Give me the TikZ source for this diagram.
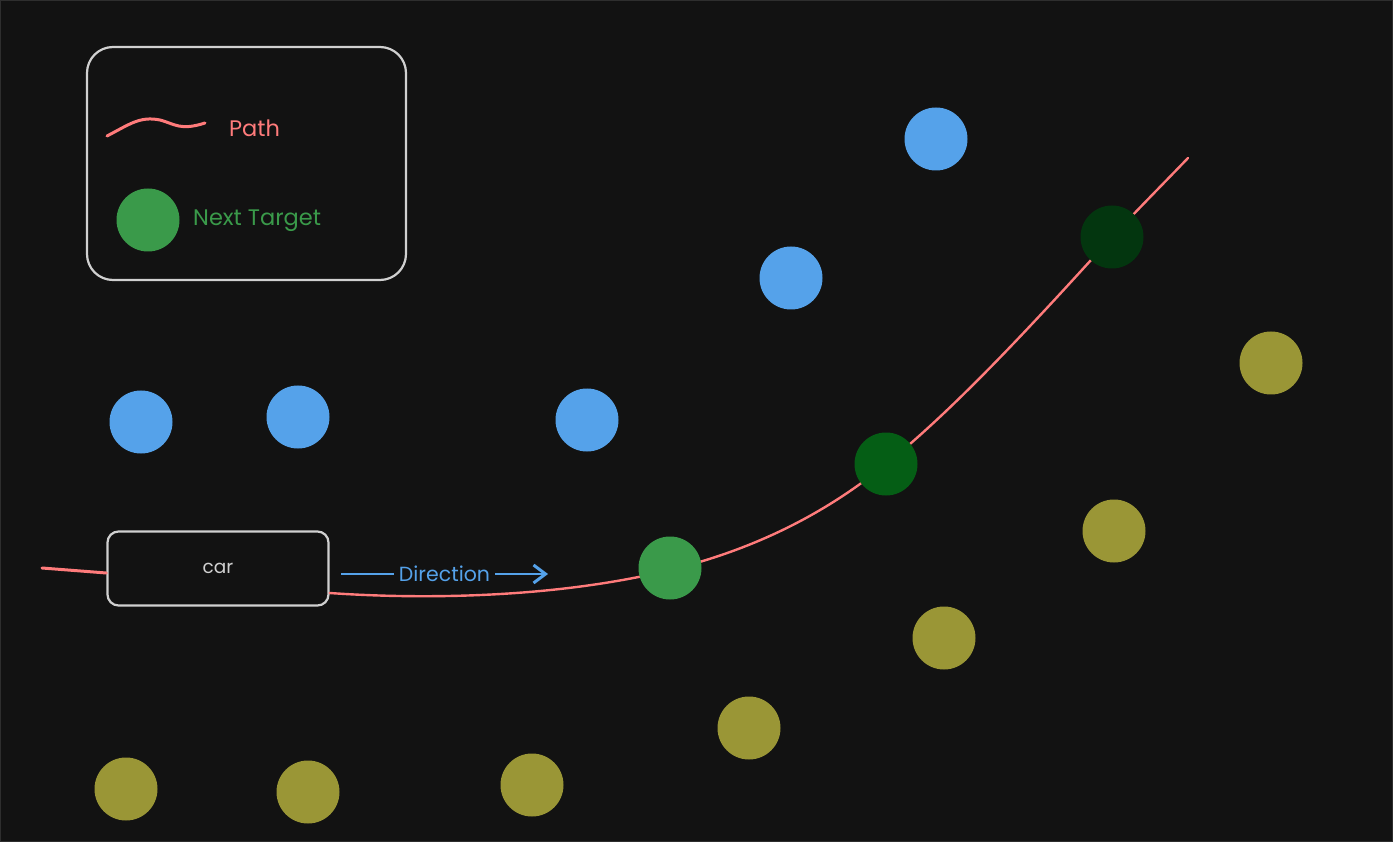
\documentclass[tikz,border=0pt]{standalone}
\usepackage{fontspec}
\setmainfont{Poppins}
\usetikzlibrary{arrows.meta}
\definecolor{bg}{HTML}{121212}
\definecolor{edge}{HTML}{2E2E2E}
\definecolor{boxline}{HTML}{D0D0D0}
\definecolor{pathred}{HTML}{FF7B7B}
\definecolor{dotblue}{HTML}{55A2EA}
\definecolor{dotolive}{HTML}{9A9636}
\definecolor{nextgreen}{HTML}{3A9A4A}
\definecolor{midgreen}{HTML}{055E15}
\definecolor{darkgreen}{HTML}{03360F}
\definecolor{dirblue}{HTML}{55A2EA}
\tikzset{
  dot/.style={circle, minimum size=63pt, inner sep=0pt},
  bluedot/.style={dot, fill=dotblue},
  olivedot/.style={dot, fill=dotolive},
  roundbox/.style={draw=boxline, line width=2.2pt, rounded corners=#1, inner sep=0pt},
  redline/.style={draw=pathred, line width=2.4pt, line cap=round},
  lbl/.style={font=\fontsize{22.5}{26}\selectfont, inner sep=1pt}
}
\begin{document}
\begin{tikzpicture}[x=1pt,y=-1pt]
\fill[bg] (0,0) rectangle (1393,842);
\draw[edge, line width=1pt] (0.5,0.5) rectangle (1392.5,841.5);
\useasboundingbox (0,0) rectangle (1393,842);

% path
\coordinate (p0) at (42,568);
\coordinate (pend) at (1188,158);
\node[roundbox=11pt, minimum width=221pt, minimum height=74pt] (car) at (218,568.5) {};
\node[text=boxline, font=\fontsize{18.5}{22}\selectfont] at (car.center) {car};
\draw[redline, line width=3pt] (p0) -- (car.west |- 0,573);
\draw[redline] (car.east |- 0,593) .. controls (430,600) and (560,597) .. (670,570)
  .. controls (760,548) and (830,510) .. (886,464)
  .. controls (960,405) and (1050,305) .. (1112,237)
  .. controls (1140,207) and (1165,182) .. (pend);

% direction arrow
\coordinate (d0) at (341,574);
\coordinate (d1) at (548,574);
\draw[dirblue, line width=2.8pt, -{Straight Barb[length=12pt,width=18pt,line width=3pt]}] (d0) -- (d1)
  node[pos=0.5, fill=bg, text=dirblue, font=\fontsize{20.5}{24}\selectfont, inner xsep=5pt, inner ysep=2pt] (dirlbl) {Direction};

% dots
\node[bluedot] (b1) at (936,139) {};
\node[bluedot] (b2) at (791,278) {};
\node[bluedot] (b3) at (141,422) {};
\node[bluedot] (b4) at (298,417) {};
\node[bluedot] (b5) at (587,420) {};
\node[olivedot] (o1) at (1271,363) {};
\node[olivedot] (o2) at (1114,531) {};
\node[olivedot] (o3) at (944,638) {};
\node[olivedot] (o4) at (749,728) {};
\node[olivedot] (o5) at (126,789) {};
\node[olivedot] (o6) at (308,792) {};
\node[olivedot] (o7) at (532,785) {};
\node[dot, fill=nextgreen] (g1) at (670,568) {};
\node[dot, fill=midgreen] (g2) at (886,464) {};
\node[dot, fill=darkgreen] (g3) at (1112,237) {};

% legend
\node[roundbox=26pt, minimum width=319pt, minimum height=233pt] (legend) at (246.5,163.5) {};
\coordinate (s0) at (107,136);
\coordinate (s1) at (205,123);
\draw[redline, line width=3pt] (s0) .. controls (130,124) and (140,116) .. (160,120)
  .. controls (175,124) and (180,131) .. (s1);
\node[lbl, text=pathred, anchor=west] (pathlbl) at (228,128) {Path};
\node[lbl, text=nextgreen, anchor=west] (nextlbl) at (192,221) {Next Target};
\node[dot, fill=nextgreen] (lg) at (148,220) {};
\end{tikzpicture}
\end{document}
